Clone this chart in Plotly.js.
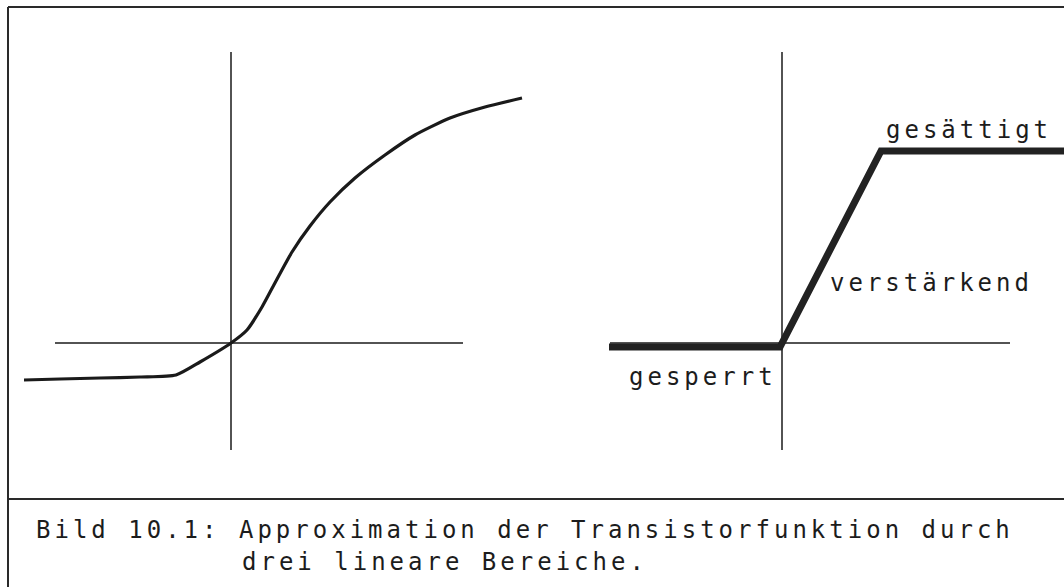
<!DOCTYPE html>
<html>
<head>
<meta charset="utf-8">
<script src="https://cdn.plot.ly/plotly-3.0.1.min.js"></script>
<style>
  html, body { margin: 0; padding: 0; background: #fff; }
  #chart { width: 1064px; height: 587px; }
  .js-plotly-plot .annotation-text { letter-spacing: 4px; }
</style>
</head>
<body>
<div id="chart"></div>
<script>
// ---- Left panel: real transistor characteristic (S-curve) ----
const curveX = [-2.07, -1.71, -1.31, -0.91, -0.55, -0.31, 0.00, 0.16, 0.31, 0.45, 0.61, 0.79, 0.99, 1.24, 1.54, 1.84, 2.19, 2.54, 2.91];
const curveY = [-0.37, -0.36, -0.35, -0.34, -0.32, -0.19, 0.00, 0.13, 0.36, 0.62, 0.91, 1.17, 1.41, 1.65, 1.88, 2.08, 2.25, 2.36, 2.45];

// ---- Right panel: piecewise-linear approximation ----
const approxX = [-1.73, -0.02, 0.99, 2.84];
const approxY = [-0.04, -0.04, 1.92, 1.92];

// ---- Coordinate axes (crosshairs) of both panels ----
const leftAxisHX = [-1.76, 2.32];
const leftAxisVY = [-1.07, 2.91];
const rightAxisHX = [-1.72, 2.28];
const rightAxisVY = [-1.07, 2.91];

// ---- Region labels ----
const regionLabels = ['gesperrt', 'verstärkend', 'gesättigt'];
const regionLabelX = [-1.55, 0.46, 1.02];
const regionLabelY = [-0.34, 0.60, 2.13];

// ---- Caption ----
const captionLines = ['Bild 10.1: Approximation der Transistorfunktion durch', 'drei lineare Bereiche.'];

const ink = '#1a1a1a';
const font = {family: 'DejaVu Sans Mono, monospace', size: 24, color: '#1c1c1c'};

const traces = [
  {x: leftAxisHX, y: [0, 0], xaxis: 'x', yaxis: 'y', mode: 'lines', line: {color: ink, width: 1.5}, hoverinfo: 'skip'},
  {x: [0, 0], y: leftAxisVY, xaxis: 'x', yaxis: 'y', mode: 'lines', line: {color: ink, width: 1.5}, hoverinfo: 'skip'},
  {x: curveX, y: curveY, xaxis: 'x', yaxis: 'y', mode: 'lines', line: {color: ink, width: 3.2, shape: 'spline', smoothing: 0.6}},
  {x: rightAxisHX, y: [0, 0], xaxis: 'x2', yaxis: 'y2', mode: 'lines', line: {color: ink, width: 1.5}, hoverinfo: 'skip'},
  {x: [0, 0], y: rightAxisVY, xaxis: 'x2', yaxis: 'y2', mode: 'lines', line: {color: ink, width: 1.5}, hoverinfo: 'skip'},
  {x: approxX, y: approxY, xaxis: 'x2', yaxis: 'y2', mode: 'lines', line: {color: '#222', width: 7}}
];

const W = 1064, H = 587;
const px = v => v / W, py = v => 1 - v / H;

const annotations = regionLabels.map((t, i) => ({
  text: t, x: regionLabelX[i], y: regionLabelY[i], xref: 'x2', yref: 'y2',
  xanchor: 'left', yanchor: 'middle', align: 'left', showarrow: false, font: font
}));
annotations.push({text: captionLines[0], x: px(34), y: py(530), xref: 'paper', yref: 'paper',
  xanchor: 'left', yanchor: 'middle', align: 'left', showarrow: false, font: font});
annotations.push({text: captionLines[1], x: px(240), y: py(562), xref: 'paper', yref: 'paper',
  xanchor: 'left', yanchor: 'middle', align: 'left', showarrow: false, font: font});

const frame = {color: '#2a2a2a', width: 2};
const shapes = [
  {type: 'line', xref: 'paper', yref: 'paper', x0: px(8), x1: px(8), y0: py(7), y1: py(H + 5), line: frame},
  {type: 'line', xref: 'paper', yref: 'paper', x0: px(8), x1: px(W + 5), y0: py(7), y1: py(7), line: frame},
  {type: 'line', xref: 'paper', yref: 'paper', x0: px(8), x1: px(W + 5), y0: py(499), y1: py(499), line: frame}
];

const hidden = {visible: false, showgrid: false, zeroline: false, fixedrange: true};
const layout = {
  width: W, height: H,
  margin: {l: 0, r: 0, t: 0, b: 0},
  paper_bgcolor: '#fff', plot_bgcolor: '#fff',
  showlegend: false,
  xaxis: Object.assign({domain: [0, 0.5], range: [-2.31, 3.01], anchor: 'y'}, hidden),
  yaxis: Object.assign({domain: [0, 1], range: [-2.44, 3.43], anchor: 'x'}, hidden),
  xaxis2: Object.assign({domain: [0.5, 1], range: [-2.50, 2.82], anchor: 'y2'}, hidden),
  yaxis2: Object.assign({domain: [0, 1], range: [-2.44, 3.43], anchor: 'x2'}, hidden),
  annotations: annotations,
  shapes: shapes
};

Plotly.newPlot('chart', traces, layout, {staticPlot: true, displayModeBar: false});
</script>
</body>
</html>
